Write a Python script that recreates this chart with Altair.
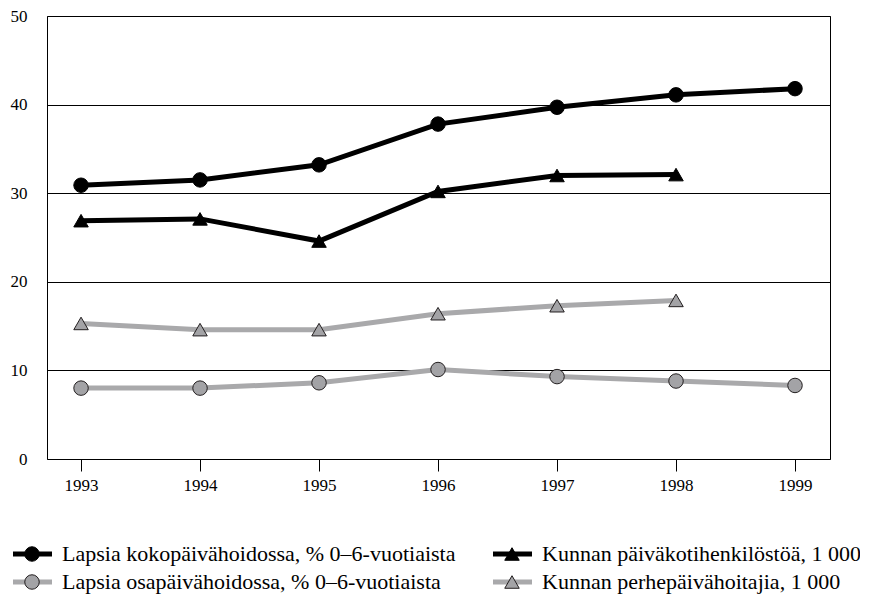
import altair as alt
import pandas as pd

# ---------------- data ----------------
years = [1993, 1994, 1995, 1996, 1997, 1998, 1999]
series_names = [
    "Lapsia kokopäivähoidossa, % 0–6-vuotiaista",
    "Kunnan päiväkotihenkilöstöä, 1 000",
    "Lapsia osapäivähoidossa, % 0–6-vuotiaista",
    "Kunnan perhepäivähoitajia, 1 000",
]
koko = [30.9, 31.5, 33.2, 37.8, 39.7, 41.1, 41.8]
paivakoti = [26.9, 27.1, 24.6, 30.2, 32.0, 32.1]
osa = [8.0, 8.0, 8.6, 10.1, 9.3, 8.8, 8.3]
perhe = [15.3, 14.6, 14.6, 16.4, 17.3, 17.9]
y_ticks = [0, 10, 20, 30, 40, 50]

# ---------------- styles / layout ----------------
FONT = "Liberation Serif"
PLOT_W, PLOT_H = 783, 443
PAD_TOP = 8
line_colors = ["#000000", "#000000", "#a9a9ab", "#a9a9ab"]
fill_colors = ["#000000", "#000000", "#a3a3a6", "#a3a3a6"]
stroke_colors = ["#000000", "#000000", "#231f20", "#231f20"]
shapes = ["circle", "triangle-up", "circle", "triangle-up"]
MARKER_SIZE = 210

rows = []
for name, vals in zip(series_names, [koko, paivakoti, osa, perhe]):
    for yr, v in zip(years, vals):
        rows.append({"year": yr, "value": v, "series": name})
df = pd.DataFrame(rows)

color_scale = alt.Scale(domain=series_names, range=line_colors)
shape_scale = alt.Scale(domain=series_names, range=shapes)
fill_scale = alt.Scale(domain=series_names, range=fill_colors)
stroke_scale = alt.Scale(domain=series_names, range=stroke_colors)

x_enc = alt.X(
    "year:Q",
    scale=alt.Scale(domain=[1992.714, 1999.294], nice=False, zero=False),
    axis=alt.Axis(
        values=years, format="d", title=None, grid=False, domain=False,
        tickSize=12, tickColor="#000", tickWidth=1, labelPadding=6,
        labelFont=FONT, labelFontSize=17, labelColor="#000",
    ),
)
y_enc = alt.Y(
    "value:Q",
    scale=alt.Scale(domain=[0, 50], nice=False),
    axis=alt.Axis(
        values=y_ticks, title=None, grid=True, gridColor="#000", gridWidth=1,
        gridOpacity=1, ticks=False, domain=False, labelPadding=20,
        labelFont=FONT, labelFontSize=17, labelColor="#000",
    ),
)

lines = alt.Chart(df).mark_line(strokeWidth=5).encode(
    x=x_enc, y=y_enc,
    color=alt.Color("series:N", scale=color_scale, legend=None),
    order=alt.Order("year:Q"),
)
points = alt.Chart(df).mark_point(filled=True, size=MARKER_SIZE, strokeWidth=1, opacity=1).encode(
    x="year:Q", y="value:Q",
    shape=alt.Shape("series:N", scale=shape_scale, legend=None),
    fill=alt.Fill("series:N", scale=fill_scale, legend=None),
    stroke=alt.Stroke("series:N", scale=stroke_scale, legend=None),
)
main = alt.layer(lines, points)

# ---------------- legend (drawn below the plot area) ----------------
# x positions in pixels relative to the plot's left edge, rows placed below plot
col_start = [-34, 446]
leg_cols = [0, 1, 0, 1]
leg_rows = [0, 0, 1, 1]
entries = []
for name, c, r in zip(series_names, leg_cols, leg_rows):
    x0 = col_start[c]
    entries.append({"series": name, "row": r, "x0": x0, "x1": x0 + 39, "xm": x0 + 19, "xt": x0 + 49})
ldf = pd.DataFrame(entries)

lx = alt.Scale(domain=[0, PLOT_W], nice=False, zero=False)
ly = alt.Scale(domain=[0, 1], range=[554 - 8 - PAD_TOP, 582 - 8 - PAD_TOP], nice=False, zero=False)

leg_lines = alt.Chart(ldf).mark_rule(strokeWidth=5).encode(
    x=alt.X("x0:Q", scale=lx, axis=None), x2="x1:Q",
    y=alt.Y("row:Q", scale=ly, axis=None),
    color=alt.Color("series:N", scale=color_scale, legend=None),
)
leg_pts = alt.Chart(ldf).mark_point(filled=True, size=MARKER_SIZE, strokeWidth=1, opacity=1).encode(
    x=alt.X("xm:Q", scale=lx, axis=None),
    y=alt.Y("row:Q", scale=ly, axis=None),
    shape=alt.Shape("series:N", scale=shape_scale, legend=None),
    fill=alt.Fill("series:N", scale=fill_scale, legend=None),
    stroke=alt.Stroke("series:N", scale=stroke_scale, legend=None),
)
leg_text = alt.Chart(ldf).mark_text(align="left", baseline="middle", font=FONT, fontSize=22, color="#000").encode(
    x=alt.X("xt:Q", scale=lx, axis=None),
    y=alt.Y("row:Q", scale=ly, axis=None),
    text="series:N",
)
legend = alt.layer(leg_lines, leg_pts, leg_text)

chart = alt.layer(main, legend).resolve_scale(x="independent", y="independent").properties(
    width=PLOT_W, height=PLOT_H,
    autosize=alt.AutoSizeParams(type="none"),
    padding={"left": 39, "top": PAD_TOP, "right": 30, "bottom": 590 - PAD_TOP - PLOT_H},
).configure_view(stroke="#000", strokeWidth=1)

chart.save("out.html", embed_options={"renderer": "svg", "actions": False})
